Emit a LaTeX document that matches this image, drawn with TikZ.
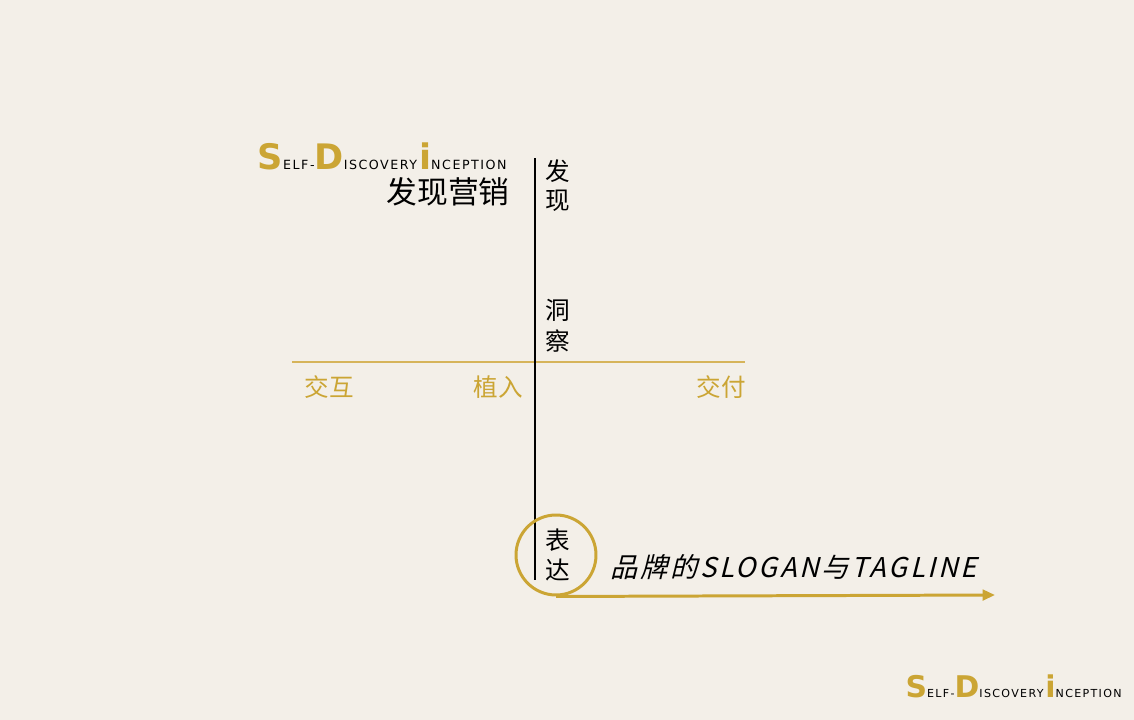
\documentclass[tikz,border=0pt]{standalone}
\usepackage{fontspec}
\setmainfont{DejaVu Sans}
\newfontfamily\logosmall[LetterSpace=12]{DejaVu Sans}
\newfontfamily\cjk{Noto Sans CJK SC}
\newfontfamily\cjkit[FakeSlant=0.25,LetterSpace=10]{Noto Sans CJK SC}
\usetikzlibrary{arrows.meta,positioning}
\definecolor{bgcream}{RGB}{243,239,232}
\definecolor{gold}{RGB}{203,165,52}
\definecolor{linegold}{RGB}{214,180,90}

% logo: big letter size, small letter size
\newcommand{\sdilogo}[2]{%
  {\color{gold}\fontsize{#1}{#1}\selectfont\bfseries S}%
  {\logosmall\fontsize{#2}{#2}\selectfont ELF-}%
  {\color{gold}\fontsize{#1}{#1}\selectfont\bfseries D}%
  {\logosmall\fontsize{#2}{#2}\selectfont ISCOVERY\,}%
  {\color{gold}\fontsize{#1}{#1}\selectfont\bfseries i}%
  {\logosmall\fontsize{#2}{#2}\selectfont NCEPTION}}

\begin{document}
\begin{tikzpicture}[x=0.02cm,y=-0.02cm,
    vchar/.style={font=\cjk\fontsize{14}{14}\selectfont,inner sep=0pt},
    gchar/.style={font=\cjk\fontsize{14}{14}\selectfont,text=gold,inner sep=0pt}]
  \useasboundingbox[fill=bgcream](0,0)rectangle(1134,720);

  % axes
  \coordinate(vtop) at (535,158);
  \coordinate(vbot) at (535,580);
  \coordinate(hleft) at (292,362);
  \coordinate(hright) at (745,362);
  \draw[linegold,line width=1.2pt](hleft)--(hright);
  \draw[black,line width=1.5pt](vtop)--(vbot);

  % title
  \node[anchor=base east,inner sep=0pt,text depth=0pt] (logo) at (507,169) {\sdilogo{20}{7.2}};
  \node[anchor=base east,inner sep=0pt,text height=12pt,font=\cjk\fontsize{17.5}{17.5}\selectfont] (title) at (510,203) {发现营销};

  % vertical labels
  \node[vchar] (fa) at (558,171) {发};
  \node[vchar] (xian) at (558,201) {现};
  \node[vchar] (dong) at (558,310) {洞};
  \node[vchar] (cha) at (558,341) {察};

  % horizontal labels
  \node[gchar] (jiaohu) at (329,387) {交互};
  \node[gchar] (zhiru) at (498,387) {植入};
  \node[gchar] (jiaofu) at (721,387) {交付};

  % expression
  \node[circle,draw=gold,line width=1.7pt,minimum size=1.6cm] (biaoda) at (556,555) {};
  \node[vchar] (biao) at (558,540) {表};
  \node[vchar] (da) at (558,570) {达};
  \coordinate(arrowend) at (995,595);
  \draw[gold,line width=1.7pt,-{Triangle[length=7pt,width=6pt]}](biaoda.south)--(arrowend);
  \node[anchor=west,inner sep=0pt,font=\cjkit\fontsize{15.5}{15.5}\selectfont] (slogan) at (610,567) {品牌的SLOGAN与TAGLINE};

  % footer
  \node[anchor=base east,inner sep=0pt] (footlogo) at (1122,697) {\sdilogo{17}{6.3}};
\end{tikzpicture}
\end{document}
